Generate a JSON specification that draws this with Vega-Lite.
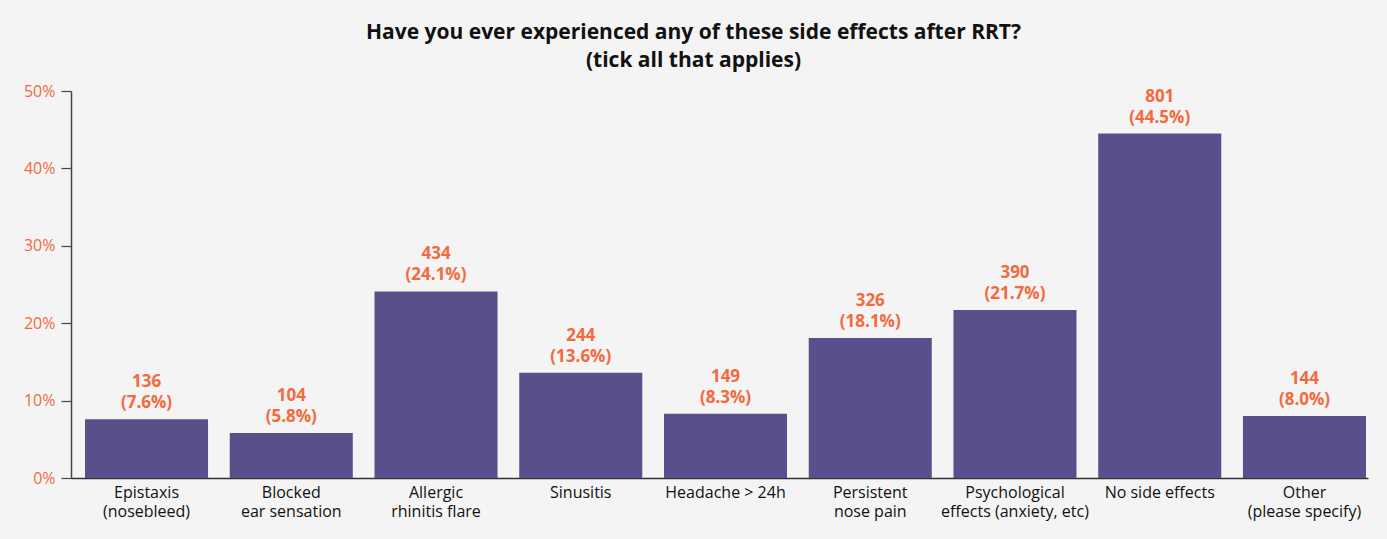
{
  "$schema": "https://vega.github.io/schema/vega-lite/v6.json",
  "autosize": "none",
  "width": 1297,
  "height": 387,
  "padding": {"left": 71, "top": 91, "right": 19, "bottom": 61},
  "background": "#f4f4f4",
  "title": {
    "text": ["Have you ever experienced any of these side effects after RRT?", "(tick all that applies)"],
    "font": "Open Sans",
    "fontSize": 21,
    "fontWeight": "bold",
    "color": "#111111",
    "lineHeight": 28,
    "anchor": "middle",
    "dx": -26,
    "offset": 12
  },
  "config": {
    "view": {"stroke": null},
    "font": "Open Sans"
  },
  "data": {
    "values": [
      {"category": "Epistaxis|(nosebleed)", "count": 136, "pct": 7.6, "label": "136\n(7.6%)"},
      {"category": "Blocked|ear sensation", "count": 104, "pct": 5.8, "label": "104\n(5.8%)"},
      {"category": "Allergic|rhinitis flare", "count": 434, "pct": 24.1, "label": "434\n(24.1%)"},
      {"category": "Sinusitis", "count": 244, "pct": 13.6, "label": "244\n(13.6%)"},
      {"category": "Headache > 24h", "count": 149, "pct": 8.3, "label": "149\n(8.3%)"},
      {"category": "Persistent|nose pain", "count": 326, "pct": 18.1, "label": "326\n(18.1%)"},
      {"category": "Psychological|effects (anxiety, etc)", "count": 390, "pct": 21.7, "label": "390\n(21.7%)"},
      {"category": "No side effects", "count": 801, "pct": 44.5, "label": "801\n(44.5%)"},
      {"category": "Other|(please specify)", "count": 144, "pct": 8.0, "label": "144\n(8.0%)"}
    ]
  },
  "encoding": {
    "x": {
      "field": "category",
      "type": "nominal",
      "sort": null,
      "scale": {"paddingInner": 0.15, "paddingOuter": 0.0553, "align": 0.875},
      "axis": {
        "title": null,
        "labelAngle": 0,
        "labelExpr": "split(datum.label, '|')",
        "labelFontSize": 16,
        "labelColor": "#111111",
        "labelLineHeight": 19,
        "labelPadding": 6,
        "ticks": false,
        "domainColor": "#333333",
        "domainWidth": 1.5,
        "labelFont": "Open Sans"
      }
    },
    "y": {
      "field": "pct",
      "type": "quantitative",
      "scale": {"domain": [0, 50]},
      "axis": {
        "title": null,
        "values": [0, 10, 20, 30, 40, 50],
        "labelExpr": "datum.value + '%'",
        "labelColor": "#f26a3d",
        "labelFontSize": 16,
        "labelPadding": 6,
        "tickSize": 10,
        "tickColor": "#444444",
        "tickWidth": 1.2,
        "domainColor": "#444444",
        "domainWidth": 1.5,
        "grid": false,
        "labelFont": "Open Sans"
      }
    }
  },
  "layer": [
    {"mark": {"type": "bar", "color": "#58508a"}},
    {
      "mark": {
        "type": "text",
        "lineBreak": "\n",
        "baseline": "bottom",
        "dy": -28,
        "fontSize": 17,
        "fontWeight": "bold",
        "color": "#f26a3d",
        "lineHeight": 21,
        "font": "Open Sans"
      },
      "encoding": {"text": {"field": "label"}}
    }
  ]
}
